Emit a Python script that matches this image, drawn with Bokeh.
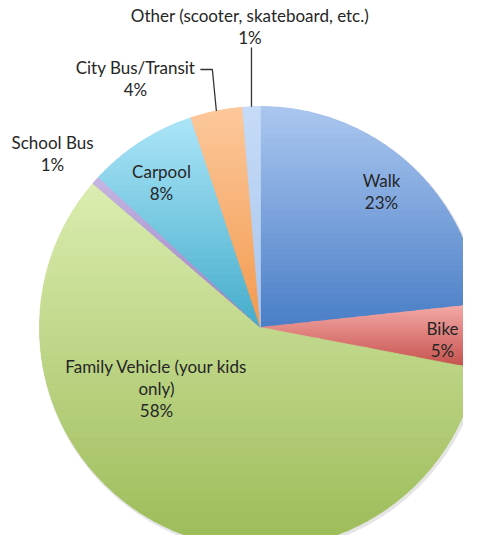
import math
from bokeh.plotting import figure
from bokeh.models import Range1d
from bokeh.core.properties import value
from bokeh.embed import file_html
from bokeh.resources import INLINE

# ---- data ----
categories = ["Walk", "Bike", "Family Vehicle (your kids\nonly)", "School Bus",
              "Carpool", "City Bus/Transit", "Other (scooter, skateboard, etc.)"]
shares = [23.3, 4.7, 58.3, 0.6, 8.0, 3.8, 1.3]
light_colors = ["#abc7f0", "#f6aca9", "#dbedb0", "#c6b6e2", "#ace5f8", "#fcc89c", "#c6dbf7"]
dark_colors = ["#4a7ec6", "#c4504c", "#9cbb58", "#9a82c2", "#45adcb", "#f39a4e", "#a9c6ee"]

# ---- layout (pixel coordinates, y downward) ----
W, H = 463, 535
CX, CY, R = 260.0, 327.0, 221.0
label_pos = [(381, 191), (442, 339), (156, 387.5), (52, 153), (161, 181.5), (135, 78), (249.5, 26)]
LINE_GAP = 22
FONT = "Lato"
FS = "17px"

p = figure(width=W, height=H, output_backend="svg", toolbar_location=None,
           x_range=Range1d(0, W), y_range=Range1d(-H, 0),
           x_axis_location=None, y_axis_location=None, min_border=0)
p.grid.visible = False
p.outline_line_color = None
p.background_fill_color = "white"
p.border_fill_color = "white"


def hexrgb(h):
    h = h.lstrip("#")
    return tuple(int(h[i:i + 2], 16) for i in (0, 2, 4))


def mix(c1, c2, t):
    a, b = hexrgb(c1), hexrgb(c2)
    return "#%02x%02x%02x" % tuple(int(round(a[i] + (b[i] - a[i]) * t)) for i in range(3))


def clip(poly, yv, keep_above):
    out = []
    n = len(poly)
    for i in range(n):
        cur = poly[i]
        prv = poly[i - 1]
        cin = cur[1] >= yv if keep_above else cur[1] <= yv
        pin = prv[1] >= yv if keep_above else prv[1] <= yv
        if cin:
            if not pin:
                t = (yv - prv[1]) / (cur[1] - prv[1])
                out.append((prv[0] + t * (cur[0] - prv[0]), yv))
            out.append(cur)
        elif pin:
            t = (yv - prv[1]) / (cur[1] - prv[1])
            out.append((prv[0] + t * (cur[0] - prv[0]), yv))
    return out


total = sum(shares)
cx, cy = CX, -CY

# soft shadow
p.circle(x=[cx + 1.5], y=[cy - 2.0], radius=R + 1.5, fill_color="#000000",
         fill_alpha=0.10, line_color=None)

cum = 0.0
mid_angles = []
xs_all, ys_all, cols_all = [], [], []
for i, s in enumerate(shares):
    a0 = math.pi / 2 - 2 * math.pi * cum / total
    cum += s
    a1 = math.pi / 2 - 2 * math.pi * cum / total
    mid_angles.append((a0 + a1) / 2)
    p.wedge(x=[cx], y=[cy], radius=R, start_angle=a0, end_angle=a1, direction="clock",
            fill_color=mix(light_colors[i], dark_colors[i], 0.5), line_color=None)
    npts = max(3, int(abs(a0 - a1) / 0.01))
    poly = [(cx, cy)] + [(cx + R * math.cos(a0 + (a1 - a0) * k / npts),
                          cy + R * math.sin(a0 + (a1 - a0) * k / npts)) for k in range(npts + 1)]
    ytop = max(q[1] for q in poly)
    ybot = min(q[1] for q in poly)
    nstrips = 40
    hstep = (ytop - ybot) / nstrips
    for k in range(nstrips):
        yhi = ytop - k * hstep + 0.4
        ylo = ytop - (k + 1) * hstep - 0.4
        piece = clip(clip(poly, ylo, True), yhi, False)
        if len(piece) < 3:
            continue
        c = mix(light_colors[i], dark_colors[i], (k + 0.5) / nstrips)
        xs_all.append([q[0] for q in piece])
        ys_all.append([q[1] for q in piece])
        cols_all.append(c)

p.patches(xs=xs_all, ys=ys_all, fill_color=cols_all, line_color=cols_all, line_width=0.6)

# leader lines for small outer labels (City Bus/Transit, Other)
ci = 5
ex, ey = cx + R * math.cos(mid_angles[ci]), cy + R * math.sin(mid_angles[ci])
p.line(x=[ex - 16, ex - 4, ex], y=[-69, -69, ey], line_color="#333333", line_width=1.3)
oi = 6
ex, ey = cx + R * math.cos(mid_angles[oi]), cy + R * math.sin(mid_angles[oi])
p.line(x=[ex, ex], y=[-47, ey], line_color="#333333", line_width=1.3)

# labels
tx, ty, tt = [], [], []
for i, cat in enumerate(categories):
    lines = cat.split("\n") + ["%d%%" % round(shares[i])]
    lx, ly = label_pos[i]
    n = len(lines)
    for j, ln in enumerate(lines):
        tx.append(lx)
        ty.append(-(ly + (j - (n - 1) / 2) * LINE_GAP))
        tt.append(ln)
p.text(x=tx, y=ty, text=tt, text_align="center", text_baseline="middle",
       text_font=value(FONT), text_font_size=FS, text_color="#262626")

open("out.html", "w").write(file_html(p, INLINE))
